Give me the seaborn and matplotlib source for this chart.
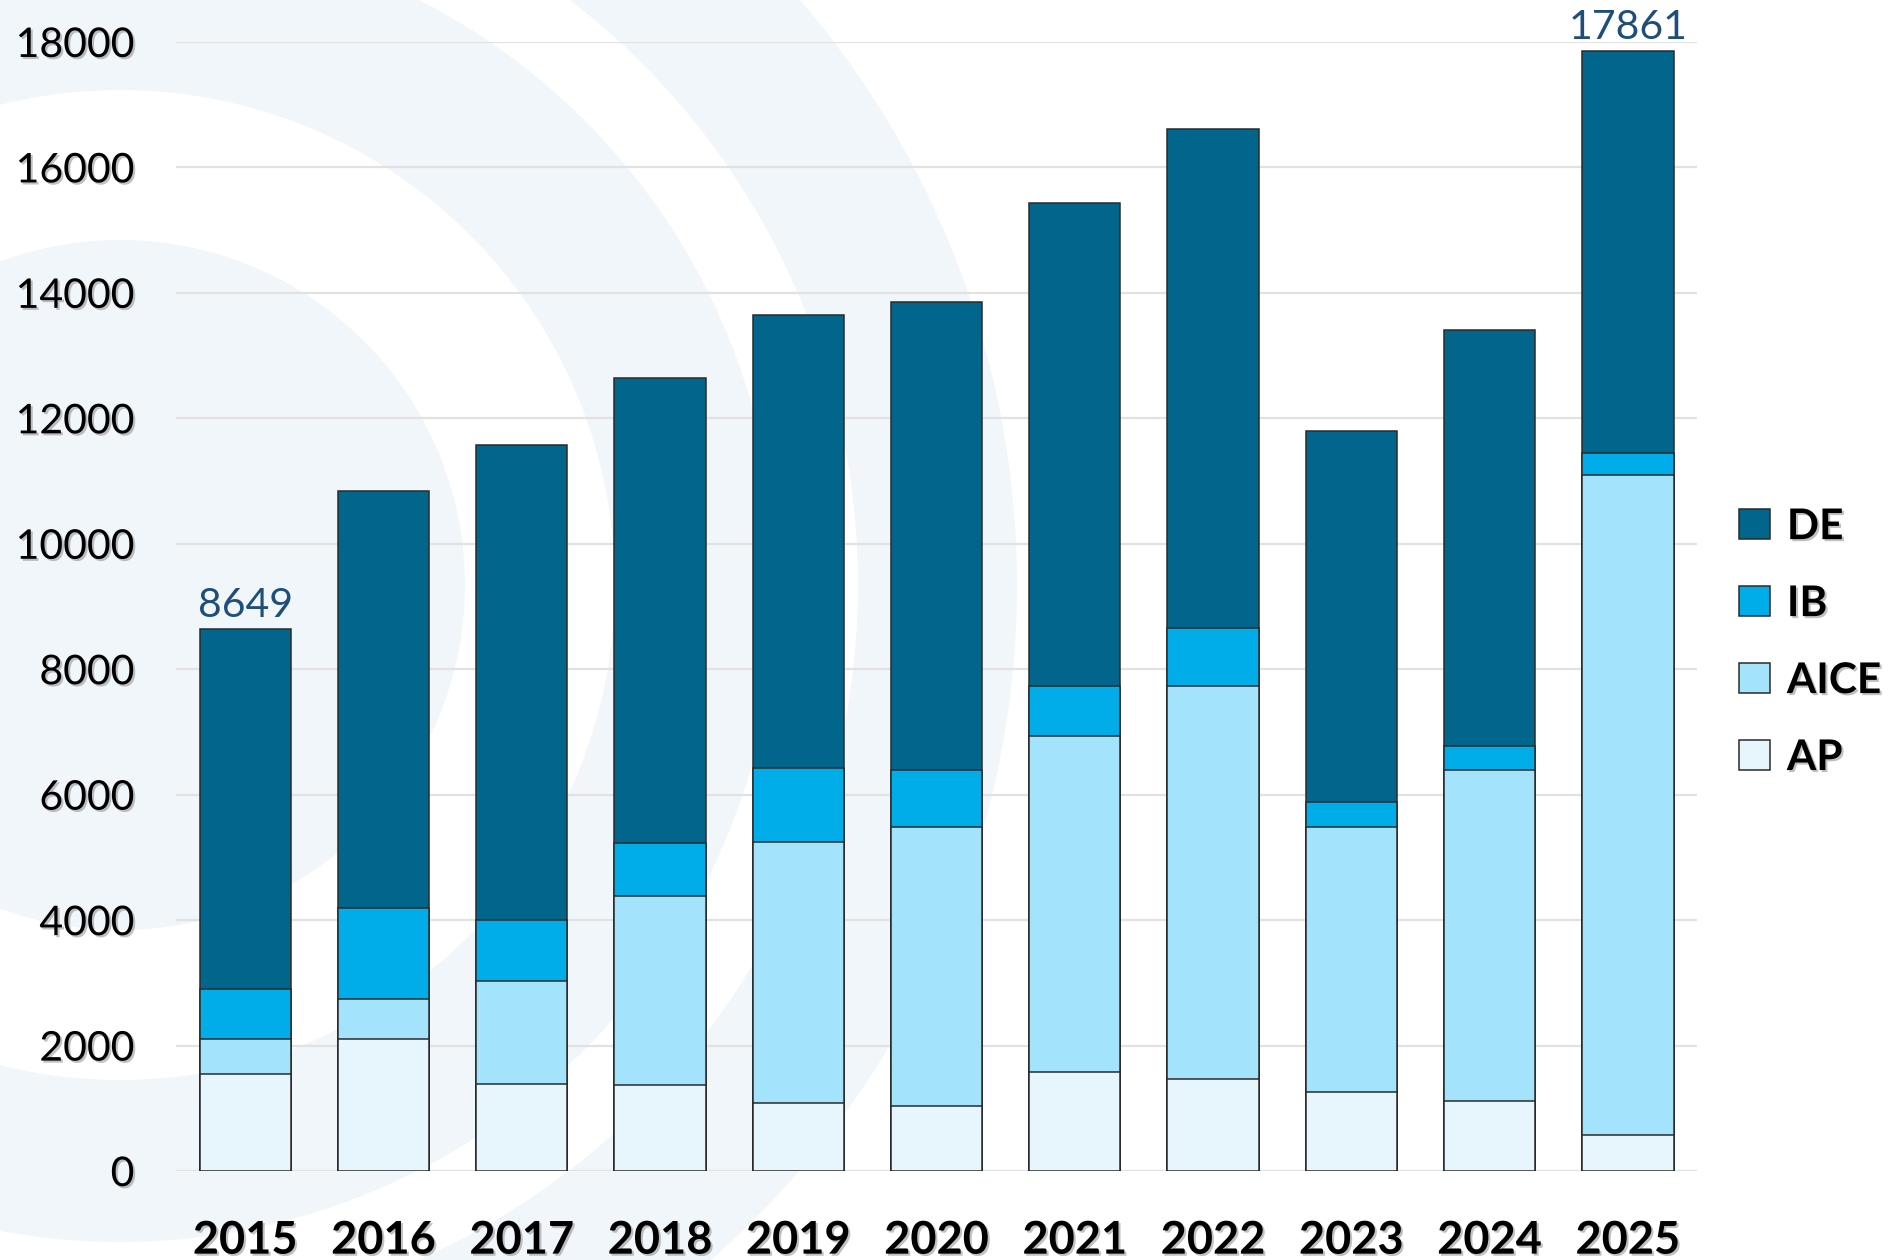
import numpy as np
import pandas as pd
import seaborn as sns
import matplotlib.pyplot as plt
import matplotlib.patheffects as pe
from matplotlib.patches import Wedge, Patch

years = ["2015", "2016", "2017", "2018", "2019", "2020",
         "2021", "2022", "2023", "2024", "2025"]
ap = [1550, 2110, 1390, 1370, 1080, 1040, 1580, 1470, 1260, 1120, 580]
aice = [560, 630, 1640, 3010, 4160, 4450, 5360, 6260, 4230, 5280, 10510]
ib = [790, 1450, 970, 850, 1180, 900, 790, 930, 400, 370, 350]
de = [5749, 6650, 7570, 7420, 7230, 7460, 7710, 7960, 5910, 6640, 6421]
series = ["DE", "IB", "AICE", "AP"]
colors = {"DE": "#02658B", "IB": "#00ADE8", "AICE": "#A3E3FB", "AP": "#E7F6FD"}
labelled_years = ["2015", "2025"]

df = pd.DataFrame({"year": years, "AP": ap, "AICE": aice, "IB": ib, "DE": de})
# cumulative tops, drawn back to front so each layer overlays the next
df["top_AP"] = df["AP"]
df["top_AICE"] = df["top_AP"] + df["AICE"]
df["top_IB"] = df["top_AICE"] + df["IB"]
df["top_DE"] = df["top_IB"] + df["DE"]

plt.rcParams["font.family"] = ["Lato", "DejaVu Sans"]
shadow = [pe.withSimplePatchShadow(offset=(1.5, -1.5), shadow_rgbFace="#777777", alpha=0.45)]

fig = plt.figure(figsize=(19.01, 12.6), dpi=100)

# faint ring watermark in the background
bg = fig.add_axes([0, 0, 1, 1], zorder=-1)
bg.set_xlim(0, 1901)
bg.set_ylim(1260, 0)
bg.axis("off")
tint = "#F1F6FA"
centre = (120, 585)
for r, w in [(345, 345), (657, 162), (897, 159)]:
    bg.add_patch(Wedge(centre, r, 0, 360, width=w, color=tint, lw=0))

ax = fig.add_axes([0.0926, 0.0706, 0.8001, 0.8961])
ax.set_facecolor("none")

for name in series:
    sns.barplot(data=df, x="year", y="top_" + name, color=colors[name],
                saturation=1, width=0.66, edgecolor="#2b2b2b", linewidth=1.1,
                errorbar=None, ax=ax)

for i, yr in enumerate(years):
    if yr in labelled_years:
        total = df.loc[i, "top_DE"]
        ax.text(i, total + 190, f"{total}", ha="center", va="baseline",
                fontsize=29.5, color="#1F4E79")

ax.set_ylim(0, 18000)
ax.set_yticks(np.arange(0, 18001, 2000))
ax.set_xlabel("")
ax.set_ylabel("")
ax.yaxis.grid(True, color="#E2E2E2", lw=1.6)
ax.set_axisbelow(True)
for s in ax.spines.values():
    s.set_visible(False)
ax.tick_params(axis="y", length=0, pad=30, labelsize=29.5)
ax.tick_params(axis="x", length=0, pad=35, labelsize=32.5)
for t in ax.get_yticklabels():
    t.set_path_effects(shadow)
for t in ax.get_xticklabels():
    t.set_fontweight("bold")
    t.set_path_effects(shadow)

handles = [Patch(facecolor=colors[n], edgecolor="#2b2b2b", lw=1.1, label=n) for n in series]
leg = fig.legend(handles=handles, loc="center left", bbox_to_anchor=(0.915, 0.49),
                 frameon=False, fontsize=30.5, handlelength=0.72, handleheight=0.72,
                 handletextpad=0.4, labelspacing=0.92, borderpad=0, borderaxespad=0)
for t in leg.get_texts():
    t.set_fontweight("bold")
    t.set_path_effects(shadow)

fig.savefig("out.png", dpi=100)
